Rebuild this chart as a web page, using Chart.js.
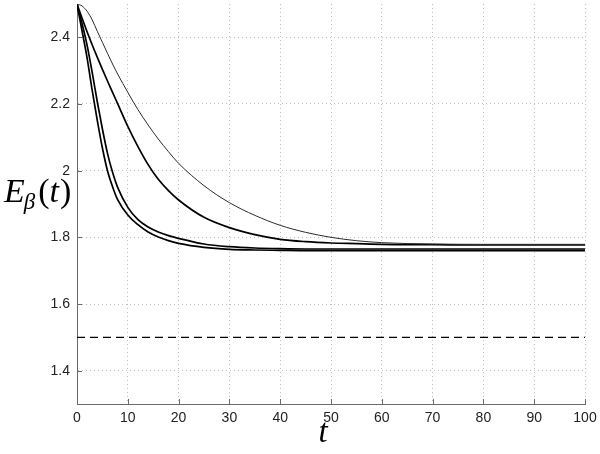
<!DOCTYPE html>
<html lang="en">
<head>
<meta charset="UTF-8" />
<title>E_beta(t)</title>
<script src="https://cdn.jsdelivr.net/npm/chart.js"></script>
<style>
  html, body { margin: 0; padding: 0; background: #fff; }
</style>
</head>
<body>
<canvas id="chart" width="600" height="454"></canvas>
<script>
// sample times and curve values
const tVals = [0, 1, 2, 3, 4, 5, 6, 7, 8, 10, 12, 14, 16, 18, 20, 25, 30, 35, 40, 45, 50, 55, 60, 70, 80, 90, 100];
const slowest = [2.500, 2.494, 2.478, 2.452, 2.418, 2.385, 2.352, 2.320, 2.290, 2.235, 2.183, 2.137, 2.095, 2.057, 2.022, 1.955, 1.904, 1.866, 1.836, 1.815, 1.800, 1.790, 1.784, 1.780, 1.779, 1.779, 1.779];
const medium  = [2.500, 2.457, 2.416, 2.377, 2.340, 2.304, 2.269, 2.235, 2.201, 2.133, 2.072, 2.018, 1.974, 1.940, 1.912, 1.860, 1.829, 1.808, 1.794, 1.787, 1.783, 1.781, 1.779, 1.778, 1.777, 1.777, 1.777];
const fast    = [2.500, 2.441, 2.375, 2.294, 2.206, 2.125, 2.052, 1.995, 1.950, 1.890, 1.853, 1.831, 1.816, 1.805, 1.797, 1.780, 1.772, 1.768, 1.766, 1.765, 1.765, 1.765, 1.765, 1.765, 1.765, 1.765, 1.765];
const fastest = [2.500, 2.419, 2.337, 2.240, 2.150, 2.068, 2.000, 1.952, 1.913, 1.867, 1.838, 1.816, 1.801, 1.790, 1.782, 1.770, 1.764, 1.762, 1.761, 1.760, 1.760, 1.760, 1.760, 1.760, 1.760, 1.760, 1.760];
const limitT = [0, 100];
const limitE = [1.5, 1.5];

const xTicks = [0, 10, 20, 30, 40, 50, 60, 70, 80, 90, 100];
const yTicks = [1.4, 1.6, 1.8, 2, 2.2, 2.4];

const pts = (xs, ys) => xs.map((x, i) => ({ x: x, y: ys[i] }));

const axisColor = '#6a6a6a';

function curve(values, width, color) {
    return {
        data: pts(tVals, values),
        borderColor: color,
        borderWidth: width,
        pointRadius: 0,
        fill: false,
        cubicInterpolationMode: 'monotone'
    };
}

// inward tick marks on the left and bottom axes
const innerTicks = {
    id: 'innerTicks',
    afterDatasetsDraw(chart) {
        const { ctx, chartArea: a, scales: { x, y } } = chart;
        ctx.save();
        ctx.strokeStyle = axisColor;
        ctx.lineWidth = 1;
        ctx.beginPath();
        xTicks.forEach(v => {
            const px = Math.round(x.getPixelForValue(v)) + 0.5;
            ctx.moveTo(px, a.bottom);
            ctx.lineTo(px, a.bottom - 5);
        });
        yTicks.forEach(v => {
            const py = Math.round(y.getPixelForValue(v)) + 0.5;
            ctx.moveTo(a.left, py);
            ctx.lineTo(a.left + 5, py);
        });
        ctx.stroke();
        ctx.restore();
    }
};

// math-style axis titles
const mathTitles = {
    id: 'mathTitles',
    afterDraw(chart) {
        const ctx = chart.ctx;
        ctx.save();
        ctx.fillStyle = '#000';
        ctx.textBaseline = 'alphabetic';
        ctx.textAlign = 'left';
        let cx = 4;
        const base = 202;
        ctx.font = 'italic 34px "Liberation Serif"';
        ctx.fillText('E', cx, base);
        cx += ctx.measureText('E').width - 1;
        ctx.font = 'italic 23px "Liberation Serif"';
        ctx.fillText('β', cx, base + 7);
        cx += ctx.measureText('β').width + 3;
        ctx.font = '34px "Liberation Serif"';
        ctx.fillText('(', cx, base);
        cx += ctx.measureText('(').width;
        ctx.font = 'italic 34px "Liberation Serif"';
        ctx.fillText('t', cx, base);
        cx += ctx.measureText('t').width + 1;
        ctx.font = '34px "Liberation Serif"';
        ctx.fillText(')', cx, base);

        ctx.textAlign = 'center';
        ctx.font = 'italic 33px "Liberation Serif"';
        ctx.fillText('t', 323, 442);
        ctx.restore();
    }
};

new Chart(document.getElementById('chart').getContext('2d'), {
    type: 'line',
    data: {
        datasets: [
            curve(slowest, 1, '#2a2a2a'),
            curve(medium, 1.7, '#000'),
            curve(fast, 1.7, '#000'),
            curve(fastest, 1.7, '#000'),
            {
                data: pts(limitT, limitE),
                borderColor: '#000',
                borderWidth: 1.2,
                borderDash: [8, 5],
                pointRadius: 0,
                fill: false
            }
        ]
    },
    options: {
        responsive: false,
        animation: false,
        layout: { padding: { left: 0, right: 15, top: 4, bottom: 0 } },
        plugins: {
            legend: { display: false },
            tooltip: { enabled: false }
        },
        scales: {
            x: {
                type: 'linear',
                min: 0,
                max: 100,
                afterBuildTicks: s => { s.ticks = xTicks.map(v => ({ value: v })); },
                afterFit: s => { s.height = 50; s.paddingLeft = 0; s.paddingRight = 0; },
                grid: { color: '#bdbdbd', lineWidth: 1, drawTicks: false },
                border: { display: true, color: axisColor, width: 1, dash: [1, 3] },
                ticks: {
                    padding: 6,
                    color: '#222',
                    font: { family: '"Liberation Sans", Arial, sans-serif', size: 14 },
                    maxRotation: 0
                }
            },
            y: {
                type: 'linear',
                min: 1.3,
                max: 2.5,
                afterBuildTicks: s => { s.ticks = yTicks.map(v => ({ value: v })); },
                afterFit: s => { s.width = 77; s.paddingTop = 0; s.paddingBottom = 0; },
                grid: { color: '#bdbdbd', lineWidth: 1, drawTicks: false },
                border: { display: true, color: axisColor, width: 1, dash: [1, 3] },
                ticks: {
                    padding: 7,
                    color: '#222',
                    font: { family: '"Liberation Sans", Arial, sans-serif', size: 14 },
                    callback: v => String(Math.round(v * 10) / 10)
                }
            }
        }
    },
    plugins: [innerTicks, mathTitles]
});
</script>
</body>
</html>
